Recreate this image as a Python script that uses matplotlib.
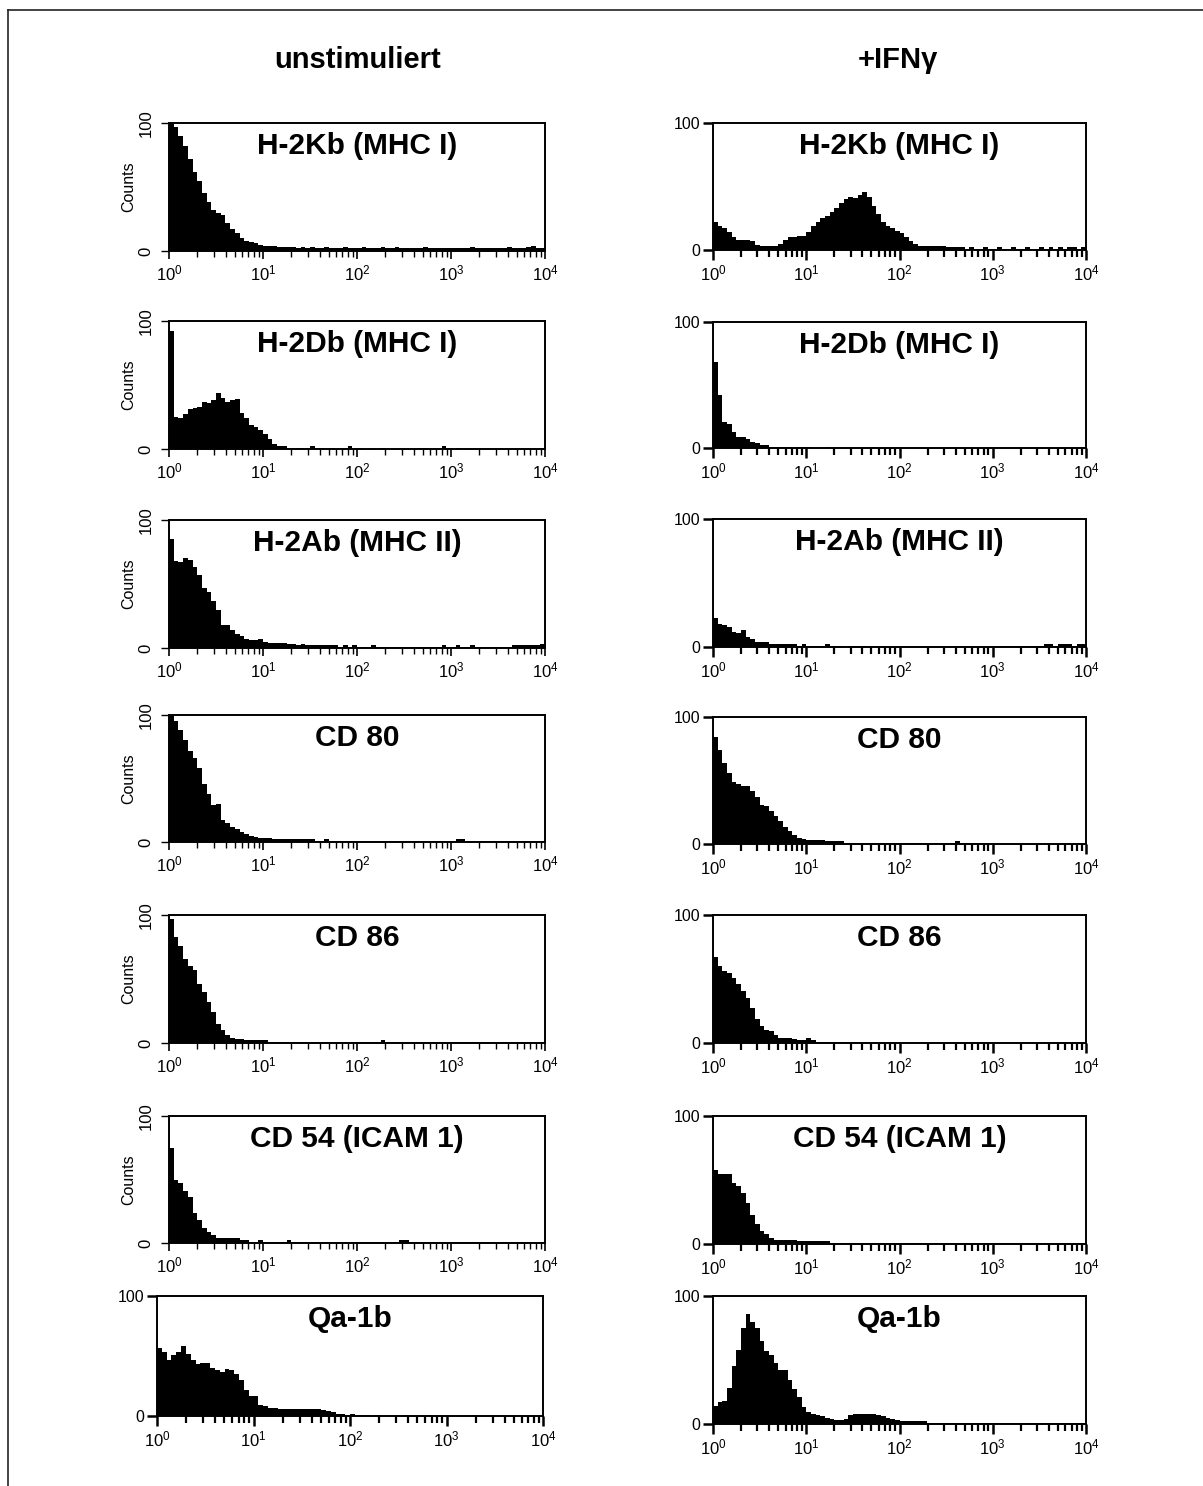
import numpy as np
import matplotlib
matplotlib.use('Agg')
import matplotlib.pyplot as plt
from matplotlib.lines import Line2D
from matplotlib.ticker import FixedLocator, NullFormatter

plt.rcParams['font.family'] = ['Liberation Sans', 'DejaVu Sans']
plt.rcParams['mathtext.fontset'] = 'custom'
plt.rcParams['mathtext.rm'] = 'Liberation Sans'
plt.rcParams['mathtext.it'] = 'Liberation Sans:italic'
plt.rcParams['mathtext.bf'] = 'Liberation Sans:bold'

# ---------------- data ----------------
column_titles = ['unstimuliert', '+IFNγ']
markers = ['H-2Kb (MHC I)', 'H-2Db (MHC I)', 'H-2Ab (MHC II)', 'CD 80', 'CD 86',
           'CD 54 (ICAM 1)', 'Qa-1b']
x_tick_labels = ['$10^{0}$', '$10^{1}$', '$10^{2}$', '$10^{3}$', '$10^{4}$']
y_tick_labels = ['0', '100']

# counts per channel, 20 channels per decade, 10^0 .. 10^4 (80 channels)
unstim_h2kb = [100, 97, 90, 82, 72, 62, 55, 45, 38, 32, 30, 28, 22, 17, 14, 10, 8, 7, 6, 5,
               4, 4, 4, 3, 3, 3, 3, 2, 3, 2, 3, 2, 2, 3, 2, 2, 2, 3, 2, 2,
               2, 3, 2, 2, 2, 3, 2, 2, 3, 2, 2, 2, 2, 2, 3, 2, 2, 2, 2, 2,
               2, 2, 2, 2, 3, 2, 2, 2, 2, 2, 2, 2, 3, 2, 2, 2, 3, 4, 2, 2]
unstim_h2db = [92, 25, 24, 27, 31, 32, 33, 37, 36, 38, 44, 40, 37, 38, 39, 28, 24, 19, 17, 15,
               12, 8, 4, 2, 2, 1, 1, 1, 1, 1, 2, 1, 1, 0, 1, 0, 0, 1, 2, 1,
               1, 0, 0, 0, 0, 1, 0, 0, 0, 0, 0, 0, 0, 1, 1, 0, 0, 0, 2, 1,
               0, 1, 0, 0, 0, 0, 0, 0, 0, 0, 0, 0, 0, 0, 0, 0, 0, 0, 0, 0]
unstim_h2ab = [85, 68, 67, 70, 69, 63, 57, 47, 44, 37, 30, 18, 18, 14, 11, 9, 7, 6, 6, 7,
               5, 4, 4, 4, 4, 3, 3, 2, 3, 2, 2, 2, 2, 2, 2, 2, 1, 2, 1, 2,
               1, 1, 1, 2, 1, 1, 1, 1, 1, 1, 1, 1, 1, 1, 1, 1, 1, 1, 2, 1,
               1, 2, 1, 1, 2, 1, 1, 1, 1, 1, 1, 1, 1, 2, 2, 2, 2, 2, 2, 3]
unstim_cd80 = [99, 95, 88, 80, 72, 66, 58, 46, 38, 29, 30, 17, 15, 12, 10, 8, 6, 5, 4, 3,
               3, 3, 2, 2, 2, 2, 2, 2, 2, 2, 2, 1, 1, 2, 1, 1, 1, 1, 1, 1,
               1, 1, 1, 1, 1, 1, 1, 1, 1, 1, 1, 1, 1, 1, 1, 1, 1, 1, 1, 1,
               1, 2, 2, 1, 1, 1, 1, 1, 1, 1, 1, 1, 1, 1, 1, 1, 1, 1, 1, 1]
unstim_cd86 = [97, 83, 76, 66, 60, 57, 46, 40, 32, 24, 15, 10, 6, 4, 3, 3, 2, 2, 2, 2,
               2, 1, 1, 1, 1, 1, 1, 1, 1, 1, 1, 1, 1, 1, 1, 1, 1, 1, 1, 1,
               1, 1, 1, 1, 1, 2, 1, 1, 1, 1, 1, 1, 1, 1, 1, 1, 1, 1, 1, 1,
               1, 1, 1, 1, 1, 1, 1, 1, 1, 1, 1, 1, 1, 1, 1, 1, 1, 1, 1, 1]
unstim_cd54 = [75, 50, 47, 41, 36, 24, 18, 12, 9, 6, 4, 4, 4, 4, 4, 2, 2, 1, 1, 2,
               1, 1, 1, 1, 1, 2, 1, 1, 1, 1, 1, 1, 1, 1, 1, 1, 1, 1, 1, 1,
               1, 1, 1, 1, 1, 1, 1, 1, 1, 2, 2, 1, 1, 1, 1, 1, 1, 1, 1, 1,
               1, 1, 1, 1, 1, 1, 1, 1, 1, 1, 1, 1, 1, 1, 1, 1, 1, 1, 1, 1]
unstim_qa1b = [57, 53, 47, 51, 53, 58, 52, 47, 43, 44, 44, 40, 38, 37, 39, 38, 35, 30, 22, 17,
               17, 9, 8, 7, 7, 6, 6, 6, 6, 6, 6, 6, 6, 6, 5, 4, 3, 2, 2, 1,
               2, 1, 1, 1, 0, 1, 0, 0, 0, 0, 0, 1, 0, 0, 0, 0, 1, 0, 0, 0,
               0, 0, 0, 0, 0, 1, 0, 0, 0, 0, 0, 0, 0, 0, 0, 0, 0, 0, 0, 0]

ifn_h2kb = [22, 19, 17, 14, 10, 8, 8, 8, 7, 4, 3, 3, 3, 3, 5, 8, 10, 10, 11, 11,
            14, 19, 22, 25, 27, 30, 33, 37, 40, 42, 41, 43, 46, 42, 35, 28, 22, 19, 17, 15,
            13, 10, 7, 5, 3, 3, 3, 3, 3, 3, 2, 2, 2, 2, 1, 2, 1, 1, 2, 1,
            1, 2, 1, 1, 2, 1, 1, 2, 1, 1, 2, 1, 2, 1, 2, 1, 2, 2, 1, 2]
ifn_h2db = [68, 42, 21, 19, 13, 9, 9, 7, 5, 4, 2, 2, 1, 1, 1, 1, 1, 0, 1, 1,
            1, 0, 0, 0, 1, 0, 0, 0, 0, 0, 0, 0, 0, 0, 1, 0, 0, 0, 0, 0,
            0, 0, 0, 0, 0, 0, 0, 0, 0, 0, 0, 0, 0, 0, 0, 0, 0, 0, 0, 0,
            0, 0, 0, 0, 0, 0, 0, 0, 0, 0, 0, 0, 0, 0, 0, 0, 0, 0, 0, 0]
ifn_h2ab = [23, 18, 17, 16, 12, 11, 13, 8, 6, 4, 4, 4, 2, 2, 2, 2, 2, 2, 1, 2,
            1, 1, 1, 1, 2, 1, 1, 1, 0, 1, 1, 1, 1, 0, 0, 0, 1, 0, 0, 0,
            0, 0, 0, 0, 0, 0, 0, 0, 0, 0, 0, 0, 0, 0, 0, 0, 0, 0, 0, 0,
            0, 1, 1, 1, 1, 1, 1, 1, 1, 1, 1, 2, 2, 1, 2, 2, 2, 1, 2, 2]
ifn_cd80 = [84, 74, 64, 56, 49, 47, 46, 46, 42, 37, 31, 30, 26, 22, 18, 13, 10, 7, 5, 4,
            3, 3, 3, 3, 2, 2, 2, 2, 1, 1, 1, 1, 1, 1, 1, 1, 1, 1, 1, 1,
            1, 1, 1, 1, 1, 1, 1, 1, 1, 1, 1, 1, 2, 1, 1, 1, 1, 1, 0, 0,
            0, 0, 0, 0, 0, 0, 0, 0, 0, 0, 0, 0, 0, 0, 0, 0, 0, 0, 0, 0]
ifn_cd86 = [67, 60, 56, 55, 51, 46, 41, 35, 27, 19, 13, 10, 9, 6, 4, 4, 4, 3, 2, 2,
            4, 2, 1, 1, 1, 1, 1, 1, 1, 1, 1, 0, 0, 0, 0, 0, 0, 0, 0, 0,
            0, 0, 0, 0, 0, 0, 0, 0, 0, 0, 0, 0, 0, 0, 0, 0, 0, 0, 0, 0,
            0, 0, 0, 0, 0, 0, 0, 0, 0, 0, 0, 0, 0, 0, 0, 0, 0, 0, 0, 0]
ifn_cd54 = [58, 55, 55, 55, 48, 45, 40, 32, 23, 16, 10, 8, 5, 3, 3, 3, 3, 3, 2, 2,
            2, 2, 2, 2, 2, 1, 1, 1, 1, 1, 1, 1, 1, 1, 1, 1, 1, 1, 1, 1,
            1, 1, 1, 1, 1, 1, 1, 1, 1, 1, 1, 1, 1, 1, 1, 1, 1, 1, 1, 1,
            1, 1, 1, 1, 1, 1, 1, 1, 1, 1, 1, 1, 1, 1, 1, 1, 1, 1, 1, 1]
ifn_qa1b = [14, 17, 18, 28, 45, 58, 75, 86, 80, 75, 65, 57, 54, 48, 42, 42, 34, 27, 21, 13,
            9, 8, 7, 6, 5, 4, 3, 3, 4, 7, 8, 8, 8, 8, 8, 7, 6, 5, 4, 3,
            2, 2, 2, 2, 2, 2, 1, 1, 1, 1, 1, 1, 1, 1, 1, 1, 1, 1, 1, 1,
            1, 1, 1, 1, 1, 1, 1, 1, 1, 1, 1, 1, 1, 1, 1, 1, 1, 1, 1, 1]

unstim = [unstim_h2kb, unstim_h2db, unstim_h2ab, unstim_cd80, unstim_cd86, unstim_cd54, unstim_qa1b]
ifn = [ifn_h2kb, ifn_h2db, ifn_h2ab, ifn_cd80, ifn_cd86, ifn_cd54, ifn_qa1b]

# ---------------- figure ----------------
W, H = 1203, 1486
fig = plt.figure(figsize=(W / 100, H / 100), dpi=100)
fig.patch.set_facecolor('white')

# outer frame (top and left lines)
fig.add_artist(Line2D([8 / W, 1.0], [1 - 10 / H, 1 - 10 / H], color='#222222', lw=1.2))
fig.add_artist(Line2D([8 / W, 8 / W], [1 - 10 / H, 0.0], color='#222222', lw=1.2))

fig.text(358 / W, 1 - 68 / H, column_titles[0], ha='center', va='baseline',
         fontsize=21, fontweight='bold')
fig.text(898 / W, 1 - 68 / H, column_titles[1], ha='center', va='baseline',
         fontsize=21, fontweight='bold')

left_rows = [(123, 251), (321, 449), (520, 648), (715, 842), (915, 1043), (1116, 1243), (1296, 1416)]
right_rows = [(123, 250), (322, 448), (519, 647), (717, 844), (915, 1043), (1116, 1244), (1296, 1424)]

n_ch = len(unstim_h2kb)
edges = np.logspace(0, 4, n_ch + 1)
minor = [m * 10 ** d for d in range(4) for m in range(2, 10)]


def add_ax(x0, y0, x1, y1):
    return fig.add_axes([x0 / W, 1 - y1 / H, (x1 - x0) / W, (y1 - y0) / H])


def draw(ax, counts, title, style, h_px):
    ax.stairs(counts, edges, fill=True, color='black', linewidth=0)
    ax.set_xscale('log')
    ax.set_xlim(1, 1e4)
    ax.set_ylim(0, 100)
    ax.xaxis.set_major_locator(FixedLocator([1, 10, 100, 1000, 10000]))
    ax.set_xticklabels(x_tick_labels)
    ax.xaxis.set_minor_locator(FixedLocator(minor))
    ax.xaxis.set_minor_formatter(NullFormatter())
    ax.set_yticks([0, 100])
    for s in ax.spines.values():
        s.set_linewidth(1.4)
        s.set_color('black')
    if style == 'A':
        ax.set_yticklabels(y_tick_labels, rotation=90, va='center', fontsize=12)
        ax.tick_params(axis='y', direction='out', length=6, width=1.0, pad=5)
        ax.set_ylabel('Counts', fontsize=11.5, labelpad=2)
        ax.tick_params(axis='x', which='major', direction='out', length=6, width=1.2,
                       labelsize=12, pad=3)
        ax.tick_params(axis='x', which='minor', direction='out', length=4, width=1.0)
    else:
        ax.set_yticklabels(y_tick_labels, fontsize=11.5)
        ax.tick_params(axis='y', direction='out', length=7, width=1.8, pad=2)
        ax.tick_params(axis='x', which='major', direction='out', length=7, width=1.8,
                       labelsize=12, pad=3)
        ax.tick_params(axis='x', which='minor', direction='out', length=5, width=1.6)
    ax.text(0.5, 1 - 31 / h_px, title, transform=ax.transAxes, ha='center',
            va='baseline', fontsize=21.5, fontweight='bold')


for i in range(7):
    y0, y1 = left_rows[i]
    if i < 6:
        ax = add_ax(169, y0, 545, y1)
        draw(ax, unstim[i], markers[i], 'A', y1 - y0)
    else:
        ax = add_ax(157, y0, 543, y1)
        draw(ax, unstim[i], markers[i], 'B', y1 - y0)
    y0, y1 = right_rows[i]
    ax = add_ax(713, y0, 1086, y1)
    draw(ax, ifn[i], markers[i], 'B', y1 - y0)

fig.savefig('out.png', dpi=100, facecolor='white')
